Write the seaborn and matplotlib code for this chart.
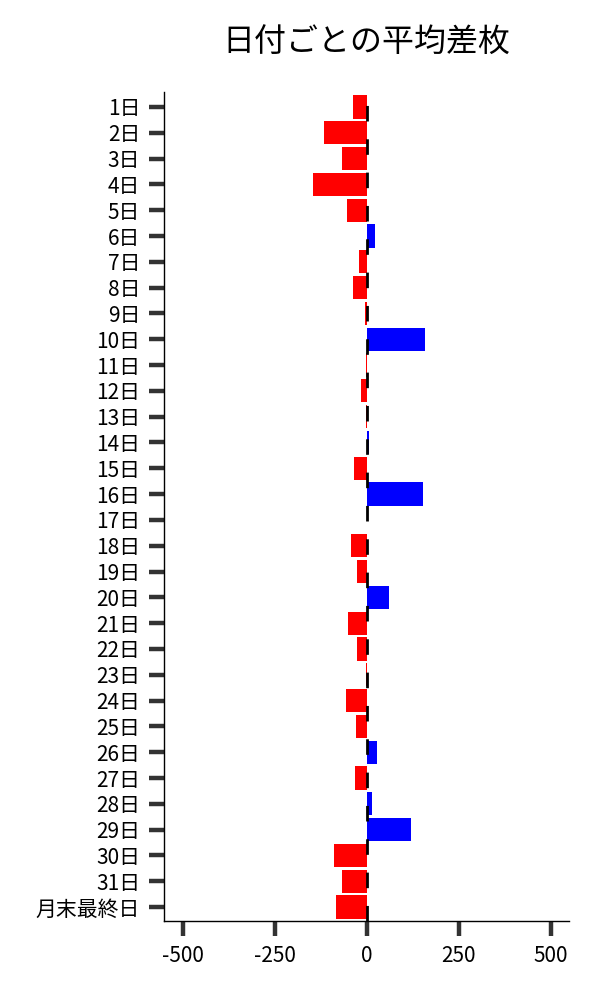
import matplotlib
matplotlib.use("Agg")
import matplotlib.pyplot as plt
import seaborn as sns
import pandas as pd

days = [f"{i}日" for i in range(1, 32)] + ["月末最終日"]
diffs = [-37, -116, -67, -146, -54, 22, -21, -37, -4, 159,
         -1, -15, -3, 5, -34, 153, 0, -43, -26, 61,
         -51, -26, -3, -56, -29, 28, -32, 14, 120, -89,
         -67, -84]
xticks = [-500, -250, 0, 250, 500]
title = "日付ごとの平均差枚"

sns.set_style("ticks")
plt.rcParams['font.family'] = ['Noto Sans CJK JP', 'DejaVu Sans']

df = pd.DataFrame({"day": days, "diff": diffs})
df["sign"] = ["pos" if v > 0 else "neg" for v in diffs]

fig = plt.figure(figsize=(6, 10), dpi=100)
ax = fig.add_axes([0.273, 0.079, 0.675, 0.829])

sns.barplot(data=df, x="diff", y="day", hue="sign", order=days,
            palette={"pos": "#0000FF", "neg": "#FF0000"},
            orient="h", width=0.9, dodge=False, legend=False,
            saturation=1, ax=ax, linewidth=0)

ax.axvline(0, color="black", lw=2, ls=(0, (5.6, 6.4)), zorder=5)

ax.set_xlim(-552, 549)
ax.set_ylim(len(days) - 1 + 0.54, -0.58)
ax.set_xticks(xticks)
ax.set_xticklabels([str(t) for t in xticks])
ax.set_xlabel("")
ax.set_ylabel("")
ax.tick_params(axis="both", length=11, width=3.2, color="#333333",
               labelsize=15, labelcolor="black")
ax.tick_params(axis="y", pad=6)
ax.tick_params(axis="x", pad=6)
for s in ["top", "right"]:
    ax.spines[s].set_visible(False)
for s in ["left", "bottom"]:
    ax.spines[s].set_color("black")
    ax.spines[s].set_linewidth(1)

fig.text(0.61, 0.957, title, ha="center", va="center", fontsize=23,
         color="black")

fig.savefig("out.png", dpi=100)
